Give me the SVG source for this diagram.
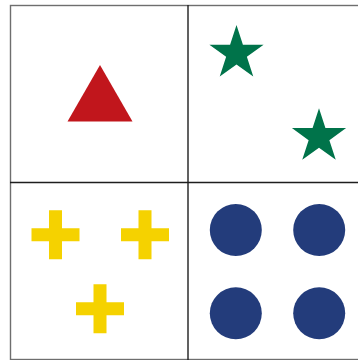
<svg xmlns="http://www.w3.org/2000/svg" xmlns:xlink="http://www.w3.org/1999/xlink" width="358" height="360" viewBox="0 0 358 360">
<style>
.outer{fill:none;stroke:#6e6e6e;stroke-width:1.4}
.inner{stroke:#1e1e1e;stroke-width:1.4}
.tri{fill:#c1161c}
.star{fill:#00734a}
.cross{fill:#f5d200}
.dot{fill:#233c7b}
</style>
<defs>
<path id="starShape" d="M0,-28.5 L6.41,-8.82 L27.1,-8.8 L10.37,3.37 L16.75,23.06 L0,10.9 L-16.75,23.06 L-10.37,3.37 L-27.1,-8.8 L-6.41,-8.82 Z"/>
<path id="crossShape" d="M-6.5,-24.5 H6.5 V-6.5 H24 V6.5 H6.5 V24.5 H-6.5 V6.5 H-24 V-6.5 H-6.5 Z"/>
</defs>
<rect width="358" height="360" fill="#ffffff"/>
<g id="grid">
<rect class="outer" x="10.5" y="5.5" width="354" height="354"/>
<line class="inner" x1="188" y1="5" x2="188" y2="360"/>
<line class="inner" x1="10" y1="182.5" x2="358" y2="182.5"/>
</g>
<g id="cell-triangle">
<polygon class="tri" points="100,65 132.5,121.5 67.5,121.5"/>
</g>
<g id="cell-stars">
<use class="star" xlink:href="#starShape" x="236.5" y="53.5"/>
<use class="star" xlink:href="#starShape" x="319" y="136.8"/>
</g>
<g id="cell-crosses">
<use class="cross" xlink:href="#crossShape" x="55.5" y="234.8"/>
<use class="cross" xlink:href="#crossShape" x="145" y="234.8"/>
<use class="cross" xlink:href="#crossShape" x="100" y="308.8"/>
</g>
<g id="cell-circles">
<circle class="dot" cx="235.8" cy="230" r="26"/>
<circle class="dot" cx="319.2" cy="230" r="26"/>
<circle class="dot" cx="235.8" cy="313.3" r="26"/>
<circle class="dot" cx="319.2" cy="313.3" r="26"/>
</g>
</svg>
